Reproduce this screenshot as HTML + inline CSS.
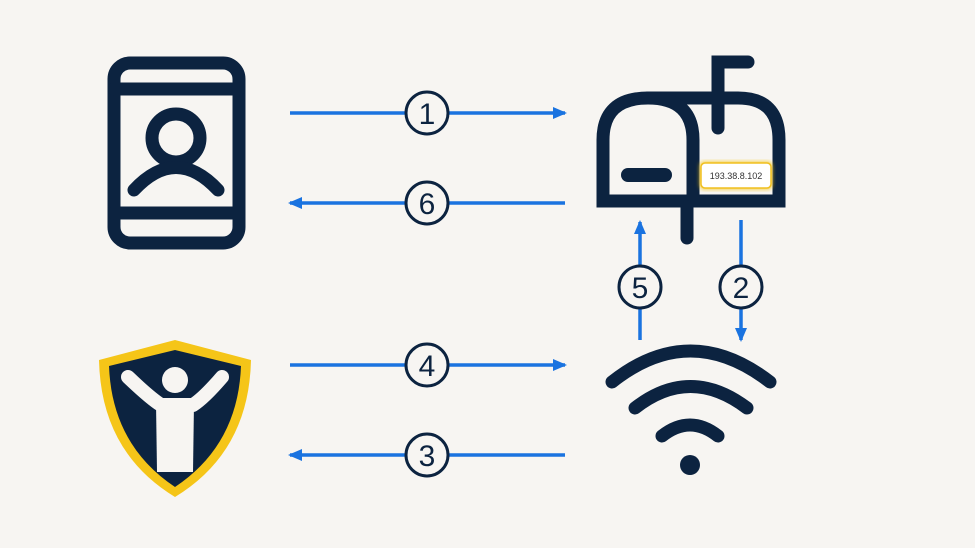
<!DOCTYPE html>
<html><head><style>body{margin:0;background:#f7f5f2}svg{display:block}</style></head><body>
<svg width="975" height="548" viewBox="0 0 975 548" xmlns="http://www.w3.org/2000/svg">
<rect width="975" height="548" fill="#f7f5f2"/>
<defs><marker id="a" markerWidth="14" markerHeight="12" refX="12" refY="6" orient="auto" markerUnits="userSpaceOnUse"><path d="M0,0 L14,6 L0,12 Z" fill="#1a73e0"/></marker>
<filter id="g"><feGaussianBlur stdDeviation="2"/></filter></defs>
<g fill="none" stroke="#0c2340" stroke-width="13" stroke-linecap="round">
<rect x="114" y="63" width="125" height="180" rx="16"/>
<line x1="114" y1="89" x2="239" y2="89"/><line x1="114" y1="213" x2="239" y2="213"/>
<circle cx="176" cy="138" r="24"/>
<path d="M134,190 Q176,145 218,190"/>
<path d="M603,201 L603,140 Q603,98 648,98 L738,98 Q779,98 779,140 L779,201 Z"/>
<path d="M603,201 L693,201 L693,140 Q693,98 648,98"/>
<path d="M718,128 L718,62 L748,62"/>
<line x1="687" y1="207" x2="687" y2="238"/>
<line x1="628" y1="175" x2="665" y2="175" stroke-width="14"/>
<path d="M612,382 Q690,320 770,382"/>
<path d="M635,408 Q690,365 747,408"/>
<path d="M662,436 Q690,414 718,436"/>
</g>
<circle cx="690" cy="465" r="10" fill="#0c2340"/>
<rect x="700" y="162" width="72" height="27" rx="4" fill="#f5c518" filter="url(#g)"/>
<rect x="701" y="163" width="70" height="25" rx="4" fill="#fff" stroke="#f0c020" stroke-width="1.5"/>
<text x="736" y="179" font-family="Liberation Sans,sans-serif" font-size="9" fill="#333" text-anchor="middle">193.38.8.102</text>
<path d="M175,340 L251,360 Q249,452 175,497 Q101,452 99,360 Z" fill="#f5c518"/>
<path d="M175,350 L241,366 Q238,445 175,487 Q112,445 109,366 Z" fill="#0c2340"/>
<circle cx="175" cy="380" r="13" fill="#f7f5f2"/>
<path d="M128,377 Q150,398 161,405 L193,405 Q204,398 222,377" fill="none" stroke="#f7f5f2" stroke-width="14" stroke-linecap="round" stroke-linejoin="round"/>
<path d="M156,402 L194,402 L193,472 L157,472 Z" fill="#f7f5f2"/>
<g stroke="#1a73e0" stroke-width="3.5" marker-end="url(#a)">
<line x1="290" y1="113" x2="565" y2="113"/>
<line x1="565" y1="203" x2="290" y2="203"/>
<line x1="290" y1="365" x2="565" y2="365"/>
<line x1="565" y1="455" x2="290" y2="455"/>
<line x1="640" y1="340" x2="640" y2="222"/>
<line x1="741" y1="220" x2="741" y2="340"/>
</g>
<g font-family="Liberation Sans,sans-serif" font-size="30" fill="#0c2340" text-anchor="middle">
<g fill="#f7f5f2" stroke="#0c2340" stroke-width="3">
<circle cx="427" cy="113" r="21"/><circle cx="427" cy="203" r="21"/><circle cx="427" cy="365" r="21"/><circle cx="427" cy="455" r="21"/><circle cx="640" cy="287" r="21"/><circle cx="741" cy="287" r="21"/></g>
<text x="427" y="124">1</text><text x="427" y="214">6</text><text x="427" y="376">4</text><text x="427" y="466">3</text><text x="640" y="298">5</text><text x="741" y="298">2</text>
</g>
</svg>
</body></html>
